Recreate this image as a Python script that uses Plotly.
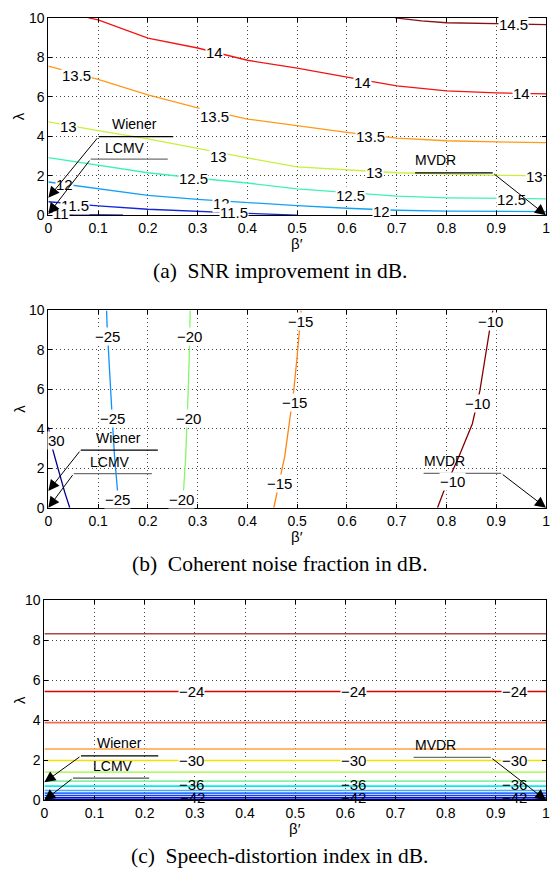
import plotly.graph_objects as go

# ---------------- data ----------------
BETA_TICKS = [0, 0.1, 0.2, 0.3, 0.4, 0.5, 0.6, 0.7, 0.8, 0.9, 1.0]
BETA_TICK_TEXT = ["0", "0.1", "0.2", "0.3", "0.4", "0.5", "0.6", "0.7", "0.8", "0.9", "1"]
LAMBDA_TICKS = [0, 2, 4, 6, 8, 10]
LAMBDA_TICK_TEXT = ["0", "2", "4", "6", "8", "10"]

BETA_GRID = [0.0, 0.1, 0.2, 0.3, 0.4, 0.5, 0.6, 0.7, 0.8, 0.9, 1.0]

# (a) SNR improvement contours, lambda as a function of beta'
SNR_110_BETA = [0.0, 0.02, 0.05, 0.1, 0.15]
SNR_110_LAMBDA = [0.2, 0.08, 0.03, 0.01, 0.0]
SNR_115_BETA = [0.0, 0.1, 0.2, 0.3, 0.4, 0.5]
SNR_115_LAMBDA = [0.68, 0.47, 0.3, 0.18, 0.09, 0.0]
SNR_120_LAMBDA = [1.68, 1.34, 1.0, 0.8, 0.63, 0.48, 0.35, 0.25, 0.2, 0.19, 0.18]
SNR_125_LAMBDA = [2.92, 2.54, 2.15, 1.87, 1.63, 1.33, 1.13, 0.96, 0.88, 0.85, 0.83]
SNR_130_LAMBDA = [4.73, 4.28, 3.87, 3.37, 2.9, 2.45, 2.29, 2.15, 2.09, 2.02, 1.99]
SNR_135_LAMBDA = [7.55, 6.88, 6.1, 5.44, 4.87, 4.53, 4.2, 3.9, 3.77, 3.71, 3.68]
SNR_140_BETA = [0.081, 0.1, 0.2, 0.3, 0.4, 0.5, 0.6, 0.7, 0.8, 0.9, 1.0]
SNR_140_LAMBDA = [10.0, 9.89, 8.97, 8.47, 7.85, 7.45, 7.0, 6.55, 6.3, 6.2, 6.15]
SNR_145_BETA = [0.697, 0.75, 0.8, 0.9, 1.0]
SNR_145_LAMBDA = [10.0, 9.85, 9.75, 9.7, 9.66]

SNR_LABEL_TEXT = ["14", "13.5", "13.5", "13", "13", "12.5", "12", "12", "11.5", "11.5", "11",
                  "14.5", "14", "14", "13.5", "13", "13", "12.5", "12.5", "12"]
SNR_LABEL_BETA = [0.333, 0.057, 0.333, 0.041, 0.341, 0.292, 0.033, 0.347, 0.053, 0.373, 0.026,
                  0.935, 0.632, 0.951, 0.648, 0.655, 0.976, 0.608, 0.931, 0.669]
SNR_LABEL_LAMBDA = [8.26, 7.06, 4.98, 4.48, 2.99, 1.84, 1.54, 0.6, 0.5, 0.15, 0.1,
                    9.65, 6.72, 6.17, 3.98, 2.14, 1.94, 1.0, 0.8, 0.2]

# (b) coherent noise fraction contours, beta' as a function of lambda
CNF_LAMBDA = [0.0, 1.0, 2.6, 4.26, 5.92, 7.58, 9.24, 10.0]
CNF_M30_BETA = [0.043, 0.033, 0.02, 0.005, 0.0]
CNF_M30_LAMBDA = [0.0, 0.78, 1.94, 3.3, 4.1]
CNF_M25_BETA = [0.142, 0.138, 0.133, 0.129, 0.125, 0.121, 0.118, 0.117]
CNF_M20_BETA = [0.267, 0.272, 0.276, 0.279, 0.281, 0.283, 0.284, 0.285]
CNF_M15_BETA = [0.453, 0.462, 0.475, 0.484, 0.493, 0.4996, 0.505, 0.508]
CNF_M10_BETA = [0.782, 0.797, 0.825, 0.852, 0.867, 0.878, 0.888, 0.893]

CNF_LABEL_TEXT = ["30", "−25", "−25", "−25", "−20", "−20", "−20",
                  "−15", "−15", "−15", "−10", "−10", "−10"]
CNF_LABEL_BETA = [0.017, 0.119, 0.128, 0.139, 0.284, 0.281, 0.267,
                  0.506, 0.495, 0.465, 0.889, 0.863, 0.812]
CNF_LABEL_LAMBDA = [3.4, 8.66, 4.54, 0.4, 8.66, 4.54, 0.4,
                    9.44, 5.34, 1.23, 9.44, 5.3, 1.31]

# (c) speech-distortion index contours (flat in beta')
SD_LINE_LAMBDA = [8.32, 5.43, 3.88, 2.56, 1.99, 1.41, 0.96, 0.71, 0.49, 0.36, 0.24, 0.13, 0.04]
SD_LABEL_TEXT = ["−24", "−24", "−24", "−30", "−30", "−30", "−36", "−36", "−36", "−42", "−42", "−42"]
SD_LABEL_BETA = [0.293, 0.617, 0.938, 0.293, 0.617, 0.938, 0.293, 0.617, 0.938, 0.296, 0.617, 0.938]
SD_LABEL_LAMBDA = [5.41, 5.41, 5.41, 1.98, 1.98, 1.98, 0.8, 0.8, 0.8, 0.12, 0.12, 0.12]

CAPTIONS = ["(a)\u00a0 SNR improvement in dB.",
            "(b)\u00a0 Coherent noise fraction in dB.",
            "(c)\u00a0 Speech-distortion index in dB."]

# ---------------- styling ----------------
W, H = 551, 880
SANS = "Liberation Sans, Arial, sans-serif"
SERIF = "Liberation Serif, Times New Roman, serif"

SNR_COLORS = {"110": "#00008f", "115": "#1226d8", "120": "#12a0f5", "125": "#3ef2b4",
              "130": "#c8f03c", "135": "#ff9a18", "140": "#f01414", "145": "#8a1010"}
CNF_COLORS = {"m30": "#000090", "m25": "#1090ff", "m20": "#86f56a", "m15": "#ff8410", "m10": "#840000"}
SD_COLORS = ["#a84848", "#dc0000", "#f06a50", "#ffa040", "#f2e000", "#b8f870", "#86f0a6",
             "#00eeee", "#44a8ff", "#2c70ff", "#1040f0", "#0010d0", "#000080"]

# panel pixel boxes: (left, right, top, bottom)
PANELS = [(45, 550, 10, 211), (45, 550, 308, 509), (41, 550, 603, 807)]

fig = go.Figure()


def line(xs, ys, color, k, width=1.3):
    fig.add_trace(go.Scatter(x=xs, y=ys, mode="lines", line=dict(color=color, width=width),
                             xaxis="x" if k == 1 else f"x{k}", yaxis="y" if k == 1 else f"y{k}",
                             hoverinfo="skip", showlegend=False))


# (a)
line(SNR_110_BETA, SNR_110_LAMBDA, SNR_COLORS["110"], 1)
line(SNR_115_BETA, SNR_115_LAMBDA, SNR_COLORS["115"], 1)
line(BETA_GRID, SNR_120_LAMBDA, SNR_COLORS["120"], 1)
line(BETA_GRID, SNR_125_LAMBDA, SNR_COLORS["125"], 1)
line(BETA_GRID, SNR_130_LAMBDA, SNR_COLORS["130"], 1)
line(BETA_GRID, SNR_135_LAMBDA, SNR_COLORS["135"], 1)
line(SNR_140_BETA, SNR_140_LAMBDA, SNR_COLORS["140"], 1)
line(SNR_145_BETA, SNR_145_LAMBDA, SNR_COLORS["145"], 1)

# (b)
line(CNF_M30_BETA, CNF_M30_LAMBDA, CNF_COLORS["m30"], 2)
line(CNF_M25_BETA, CNF_LAMBDA, CNF_COLORS["m25"], 2)
line(CNF_M20_BETA, CNF_LAMBDA, CNF_COLORS["m20"], 2)
line(CNF_M15_BETA, CNF_LAMBDA, CNF_COLORS["m15"], 2)
line(CNF_M10_BETA, CNF_LAMBDA, CNF_COLORS["m10"], 2)

# (c)
for lam, col in zip(SD_LINE_LAMBDA, SD_COLORS):
    line([0, 1], [lam, lam], col, 3, width=1.6)

annotations = []
shapes = []
CENTER = dict(xanchor="center", yanchor="middle")


def label(k, x, y, text, bg="white", size=15):
    annotations.append(dict(x=x, y=y, xref="x" if k == 1 else f"x{k}", yref="y" if k == 1 else f"y{k}",
                            text=text, showarrow=False, bgcolor=bg, borderpad=0, **CENTER,
                            font=dict(family=SANS, size=size, color="black")))


for t, b, l in zip(SNR_LABEL_TEXT, SNR_LABEL_BETA, SNR_LABEL_LAMBDA):
    label(1, b, l, t)
for t, b, l in zip(CNF_LABEL_TEXT, CNF_LABEL_BETA, CNF_LABEL_LAMBDA):
    label(2, b, l, t)
for t, b, l in zip(SD_LABEL_TEXT, SD_LABEL_BETA, SD_LABEL_LAMBDA):
    label(3, b, l, t, bg="white" if t in ("−24", "−30") else "rgba(0,0,0,0)")

# text arrows: (panel, text, text pos, hline y, hline x0, x1, line color, tail x, tip)
ARROWS = [
    (1, "Wiener", (0.174, 4.63), 3.98, 0.101, 0.251, "black", 0.101, (0.0, 0.88)),
    (1, "LCMV", (0.154, 3.38), 2.84, 0.085, 0.240, "#707070", 0.085, (0.0, 0.05)),
    (1, "MVDR", (0.778, 2.79), 2.14, 0.737, 0.893, "black", 0.893, (1.0, 0.0)),
    (2, "Wiener", (0.140, 3.55), 2.92, 0.065, 0.220, "black", 0.065, (0.0, 0.85)),
    (2, "LCMV", (0.123, 2.32), 1.73, 0.051, 0.208, "#707070", 0.051, (0.0, 0.0)),
    (2, "MVDR", (0.797, 2.35), 1.74, 0.754, 0.910, "#707070", 0.910, (1.0, 0.0)),
    (3, "Wiener", (0.150, 2.88), 2.22, 0.073, 0.227, "black", 0.073, (0.0, 0.9)),
    (3, "LCMV", (0.136, 1.73), 1.11, 0.057, 0.209, "#505050", 0.057, (0.0, 0.0)),
    (3, "MVDR", (0.779, 2.76), 2.14, 0.736, 0.890, "#707070", 0.890, (1.0, 0.0)),
]
for k, txt, (tx, ty), hy, hx0, hx1, col, tail, (px, py) in ARROWS:
    xr = "x" if k == 1 else f"x{k}"
    yr = "y" if k == 1 else f"y{k}"
    annotations.append(dict(x=tx, y=ty, xref=xr, yref=yr, text=txt, showarrow=False, **CENTER,
                            font=dict(family=SANS, size=14, color="black")))
    shapes.append(dict(type="line", xref=xr, yref=yr, x0=hx0, x1=hx1, y0=hy, y1=hy,
                       line=dict(color=col, width=1.2)))
    annotations.append(dict(x=px, y=py, xref=xr, yref=yr, ax=tail, ay=hy, axref=xr, ayref=yr,
                            text="", showarrow=True, arrowhead=2, arrowsize=2.2, arrowwidth=1,
                            arrowcolor="black", standoff=0, startstandoff=0))

# axis titles and captions
for i, (l, r, t, b) in enumerate(PANELS):
    annotations.append(dict(x=(l + r) / 2 / W, y=1 - (b + 29) / H, xref="paper", yref="paper",
                            text="β′", showarrow=False, **CENTER,
                            font=dict(family=SANS, size=15, color="black")))
    annotations.append(dict(x=15 / W, y=1 - ((t + b) / 2) / H, xref="paper", yref="paper", text="λ",
                            textangle=-90, showarrow=False, **CENTER,
                            font=dict(family=SANS, size=15, color="black")))
    annotations.append(dict(x=280 / W, y=1 - (b + 57) / H, xref="paper", yref="paper",
                            text=CAPTIONS[i], showarrow=False, **CENTER,
                            font=dict(family=SERIF, size=21.5, color="black")))

layout = dict(width=W, height=H, margin=dict(l=0, r=0, t=0, b=0),
              paper_bgcolor="white", plot_bgcolor="white",
              annotations=annotations, shapes=shapes, showlegend=False)

for i, (l, r, t, b) in enumerate(PANELS):
    k = "" if i == 0 else str(i + 1)
    common = dict(showline=True, linecolor="black", linewidth=1, mirror="ticks",
                  ticks="inside", ticklen=4, tickcolor="black", tickwidth=1,
                  showgrid=True, gridcolor="#444444", griddash="1px,3px", gridwidth=1,
                  zeroline=False, fixedrange=True, ticklabeloverflow="allow",
                  tickfont=dict(family=SANS, size=14, color="black"))
    layout["xaxis" + k] = dict(common, domain=[l / W, r / W], range=[0, 1],
                               tickvals=BETA_TICKS, ticktext=BETA_TICK_TEXT,
                               anchor="y" + k)
    layout["yaxis" + k] = dict(common, domain=[1 - b / H, 1 - t / H], range=[0, 10],
                               tickvals=LAMBDA_TICKS, ticktext=LAMBDA_TICK_TEXT,
                               anchor="x" + k)

fig.update_layout(**layout)
fig.write_html("out.html", config={"displayModeBar": False},
               post_script="document.body.style.margin='0';"
                           "document.documentElement.style.overflow='hidden';")
